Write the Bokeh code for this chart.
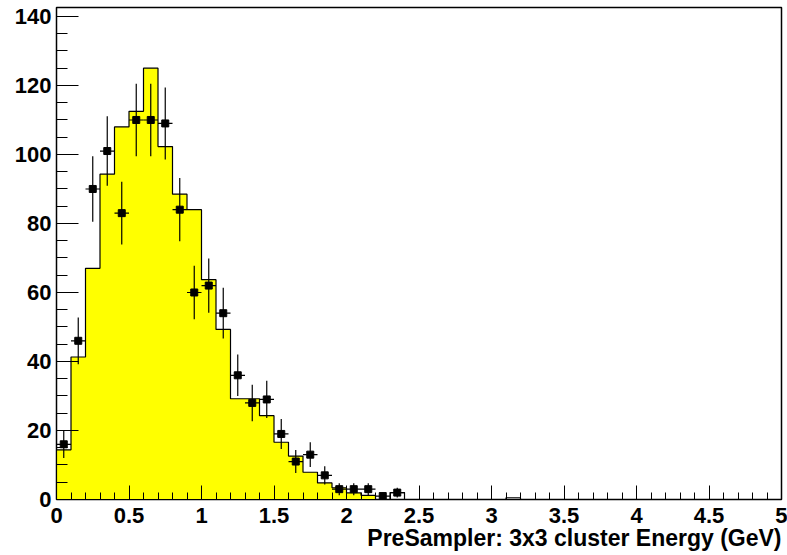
from bokeh.plotting import figure
from bokeh.models import Range1d, FixedTicker, Title
from bokeh.embed import file_html
from bokeh.resources import INLINE

# Histogram binning
x_min = 0.0
x_max = 5.0
bin_width = 0.1

# Simulated (filled) histogram contents, 50 bins of 0.1 GeV
mc_counts = [14.4, 41.3, 67.0, 94.3, 108.0, 112.5, 125.0, 102.3, 88.5, 84.0,
             63.7, 49.3, 29.2, 29.2, 24.3, 16.6, 12.6, 7.9, 4.8, 3.4,
             1.9, 1.2, 0.0, 2.0, 0.0, 0.0, 0.0, 0.0, 0.0, 0.0,
             0.0, 0.5, 0.0, 0.0, 0.0, 0.0, 0.0, 0.0, 0.0, 0.0,
             0.0, 0.0, 0.0, 0.0, 0.0, 0.0, 0.0, 0.0, 0.0, 0.0]

# Measured data counts (Poisson errors)
data_counts = [16, 46, 90, 101, 83, 110, 110, 109, 84, 60,
               62, 54, 36, 28, 29, 19, 11, 13, 7, 3,
               3, 3, 1, 2]

x_ticks = [0, 0.5, 1, 1.5, 2, 2.5, 3, 3.5, 4, 4.5, 5]
x_tick_labels = ["0", "0.5", "1", "1.5", "2", "2.5", "3", "3.5", "4", "4.5", "5"]
y_ticks = [0, 20, 40, 60, 80, 100, 120, 140]
y_max = 142.6

x_title = "PreSampler: 3x3 cluster Energy (GeV)"

FONT = "Liberation Sans"

p = figure(width=787, height=555, output_backend="svg", toolbar_location=None,
           x_range=Range1d(x_min, x_max), y_range=Range1d(0, y_max),
           min_border_left=56, min_border_right=6, min_border_top=7,
           min_border_bottom=56)
p.background_fill_color = "white"
p.border_fill_color = "white"
p.outline_line_color = "black"
p.outline_line_width = 1.5
p.xgrid.visible = False
p.ygrid.visible = False

n_bins = len(mc_counts)
lefts = [x_min + i * bin_width for i in range(n_bins)]
rights = [x_min + (i + 1) * bin_width for i in range(n_bins)]

# Step outline of the histogram
sx = [x_min]
sy = [0.0]
for i, v in enumerate(mc_counts):
    sx += [lefts[i], rights[i]]
    sy += [v, v]
sx.append(x_max)
sy.append(0.0)

# The fill area stops at the first empty bin
first_empty = next(i for i, v in enumerate(mc_counts) if v == 0)
fx = [x_min]
fy = [0.0]
for i in range(first_empty):
    fx += [lefts[i], rights[i]]
    fy += [mc_counts[i], mc_counts[i]]
fx.append(rights[first_empty - 1])
fy.append(0.0)
p.patch(fx, fy, fill_color="#ffff00", line_color=None)

p.line(sx, sy, line_color="black", line_width=1.2)

# Data points with error bars
centers = [x_min + (i + 0.5) * bin_width for i in range(len(data_counts))]
pts = [(c, n) for c, n in zip(centers, data_counts) if n > 0]
px = [c for c, _ in pts]
py = [n for _, n in pts]
err = [n ** 0.5 for n in py]
p.segment(x0=px, x1=px, y0=[y - e for y, e in zip(py, err)],
          y1=[y + e for y, e in zip(py, err)], line_color="black", line_width=1.2)
p.segment(x0=[x - bin_width / 2 for x in px], x1=[x + bin_width / 2 for x in px],
          y0=py, y1=py, line_color="black", line_width=1.2)
p.scatter(px, py, marker="square", size=7, fill_color="black", line_color="black")

# Axes
xa = p.xaxis[0]
xa.ticker = FixedTicker(ticks=x_ticks,
                        minor_ticks=[x_min + i * bin_width for i in range(n_bins + 1)])
xa.major_label_overrides = {t: s for t, s in zip(x_ticks, x_tick_labels)}
xa.major_tick_in = 14
xa.major_tick_out = 0
xa.minor_tick_in = 7
xa.minor_tick_out = 0
xa.major_label_standoff = 8
ya = p.yaxis[0]
ya.ticker = FixedTicker(ticks=y_ticks, minor_ticks=list(range(0, 145, 5)))
ya.major_tick_in = 22
ya.major_tick_out = 0
ya.minor_tick_in = 11
ya.minor_tick_out = 0
ya.major_label_standoff = 5
for ax in (xa, ya):
    ax.axis_line_color = "black"
    ax.major_tick_line_color = "black"
    ax.minor_tick_line_color = "black"
    ax.major_label_text_font = FONT
    ax.major_label_text_font_style = "bold"
    ax.major_label_text_font_size = "22px"
    ax.major_label_text_color = "black"

# Axis title, right-aligned at the end of the x axis
title = Title(text=x_title, align="right", text_font=FONT, text_font_style="bold",
              text_font_size="23px", text_color="black", standoff=-6, offset=0)
p.add_layout(title, "below")

open("out.html", "w").write(file_html(p, INLINE))
